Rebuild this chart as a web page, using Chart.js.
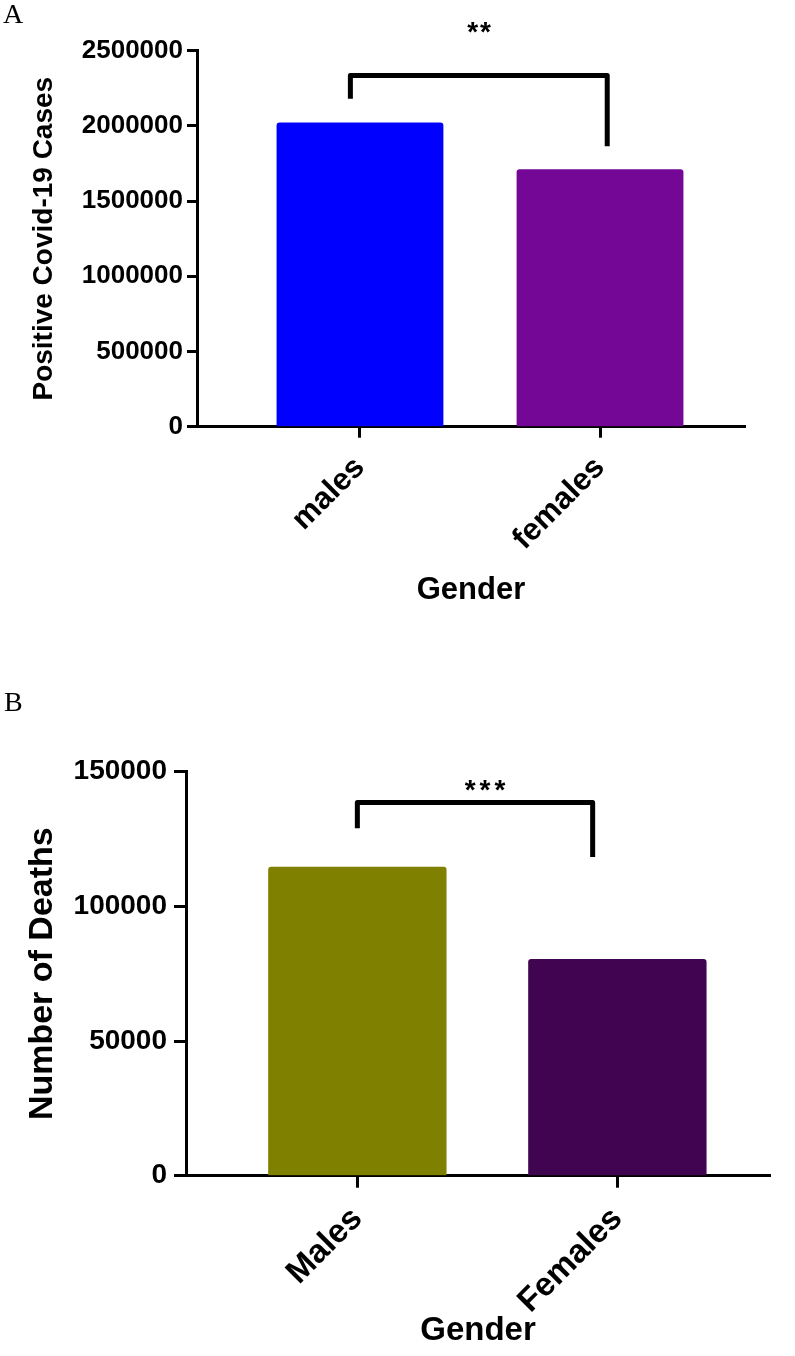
<!DOCTYPE html>
<html>
<head>
<meta charset="utf-8">
<script src="https://cdn.jsdelivr.net/npm/chart.js@4.4.0/dist/chart.umd.min.js"></script>
<style>
  body { margin: 0; background: #fff; width: 795px; height: 1356px; position: relative; overflow: hidden; }
  canvas { display: block; position: absolute; left: 0; }
  .letter { position: absolute; font-family: "Liberation Serif", "Times New Roman", serif; font-size: 28px; line-height: 28px; color: #000; }
</style>
</head>
<body>
<canvas id="chartA" width="795" height="650" style="top:0px"></canvas>
<canvas id="chartB" width="795" height="706" style="top:650px"></canvas>
<div class="letter" style="left:3px;top:0px">A</div>
<div class="letter" style="left:4px;top:688px">B</div>
<script>
// panel A - positive cases by gender
const gendersA = ['males', 'females'];
const casesA = [2023000, 1711000];
const colorsA = ['#0000ff', '#740796'];
const yTicksA = [0, 500000, 1000000, 1500000, 2000000, 2500000];

// panel B - deaths by gender
const gendersB = ['Males', 'Females'];
const deathsB = [114700, 80500];
const colorsB = ['#808000', '#400451'];
const yTicksB = [0, 50000, 100000, 150000];

const FONT = '"Liberation Sans", Arial, sans-serif';

// significance bracket + stars, placed in data units
function bracketPlugin(br) {
    return {
        id: 'bracket',
        afterDatasetsDraw(chart) {
            const xs = chart.scales.x, ys = chart.scales.y;
            const ctx = chart.ctx;
            const xl = xs.getPixelForValue(br.x[0]);
            const xr = xs.getPixelForValue(br.x[1]);
            ctx.save();
            ctx.strokeStyle = '#000';
            ctx.lineWidth = 5;
            ctx.lineJoin = 'round';
            ctx.beginPath();
            ctx.moveTo(xl, ys.getPixelForValue(br.yLeft));
            ctx.lineTo(xl, ys.getPixelForValue(br.yTop));
            ctx.lineTo(xr, ys.getPixelForValue(br.yTop));
            ctx.lineTo(xr, ys.getPixelForValue(br.yRight));
            ctx.stroke();
            ctx.fillStyle = '#000';
            ctx.font = 'bold ' + br.starSize + 'px ' + FONT;
            ctx.letterSpacing = br.starGap + 'px';
            ctx.textAlign = 'center';
            ctx.textBaseline = 'alphabetic';
            ctx.fillText(br.stars, xs.getPixelForValue(br.starX) + br.starGap / 2,
                ys.getPixelForValue(br.starY) + 0.57 * br.starSize);
            ctx.restore();
        }
    };
}

function makeChart(id, o) {
    return new Chart(document.getElementById(id), {
        type: 'bar',
        data: {
            datasets: [{
                data: o.values.map((v, i) => ({x: i, y: v})),
                backgroundColor: o.colors,
                borderRadius: 3,
                borderSkipped: 'start',
                barPercentage: o.barPct,
                categoryPercentage: 1
            }]
        },
        options: {
            responsive: false,
            animation: false,
            devicePixelRatio: 1,
            layout: { padding: { left: 0, top: o.padTop, right: o.padRight, bottom: 0 } },
            plugins: { legend: { display: false }, tooltip: { enabled: false } },
            scales: {
                x: {
                    type: 'linear',
                    offset: false,
                    min: o.xMin,
                    max: o.xMax,
                    afterBuildTicks: s => { s.ticks = o.labels.map((l, i) => ({value: i})); },
                    afterFit: s => { s.height = o.xHeight; },
                    grid: { display: true, offset: false, drawOnChartArea: false, drawTicks: true,
                            tickLength: o.xTickLen, tickWidth: 3, tickColor: '#000' },
                    border: { display: true, color: '#000', width: 3 },
                    ticks: {
                        autoSkip: false, minRotation: 45, maxRotation: 45, padding: o.xTickPad,
                        color: '#000', font: { family: FONT, weight: 'bold', size: o.xTickSize },
                        callback: v => o.labels[v]
                    },
                    title: { display: true, text: 'Gender', color: '#000',
                             font: { family: FONT, weight: 'bold', size: o.xTitleSize },
                             padding: { top: 0, bottom: o.xTitlePad } }
                },
                y: {
                    min: 0,
                    max: o.yTicks[o.yTicks.length - 1],
                    afterBuildTicks: s => { s.ticks = o.yTicks.map(v => ({value: v})); },
                    afterFit: s => { s.width = o.yWidth; },
                    grid: { display: true, drawOnChartArea: false, drawTicks: true,
                            tickLength: o.yTickLen, tickWidth: 3, tickColor: '#000' },
                    border: { display: true, color: '#000', width: 3 },
                    ticks: {
                        padding: o.yTickPad, color: '#000',
                        font: { family: FONT, weight: 'bold', size: o.yTickSize },
                        callback: v => String(v)
                    },
                    title: { display: true, text: o.yTitle, color: '#000',
                             font: { family: FONT, weight: 'bold', size: o.yTitleSize },
                             padding: { top: o.yTitlePad, bottom: 0 } }
                }
            }
        },
        plugins: [bracketPlugin(o.bracket)]
    });
}

makeChart('chartA', {
    labels: gendersA, values: casesA, colors: colorsA, yTicks: yTicksA,
    yTitle: 'Positive Covid-19 Cases',
    padTop: 50.7, padRight: 50, xHeight: 223.3, yWidth: 197,
    xMin: -0.679, xMax: 1.604, barPct: 0.695,
    xTickLen: 11, xTickPad: 12, xTickSize: 31, xTitleSize: 31, xTitlePad: 41,
    yTickLen: 10, yTickPad: 4, yTickSize: 26, yTitleSize: 28, yTitlePad: 27,
    bracket: { x: [-0.04, 1.03], yTop: 2335000, yLeft: 2180000, yRight: 1865000,
               stars: '**', starX: 0.496, starY: 2670000, starSize: 28, starGap: 2 }
});

makeChart('chartB', {
    labels: gendersB, values: deathsB, colors: colorsB, yTicks: yTicksB,
    yTitle: 'Number of Deaths',
    padTop: 121.7, padRight: 25, xHeight: 180.3, yWidth: 186,
    xMin: -0.659, xMax: 1.587, barPct: 0.686,
    xTickLen: 12, xTickPad: 12, xTickSize: 33, xTitleSize: 33, xTitlePad: 5,
    yTickLen: 12, yTickPad: 7, yTickSize: 28, yTitleSize: 34, yTitlePad: 22,
    bracket: { x: [0, 0.905], yTop: 138600, yLeft: 129000, yRight: 118300,
               stars: '***', starX: 0.491, starY: 145900, starSize: 28, starGap: 4 }
});
</script>
</body>
</html>
